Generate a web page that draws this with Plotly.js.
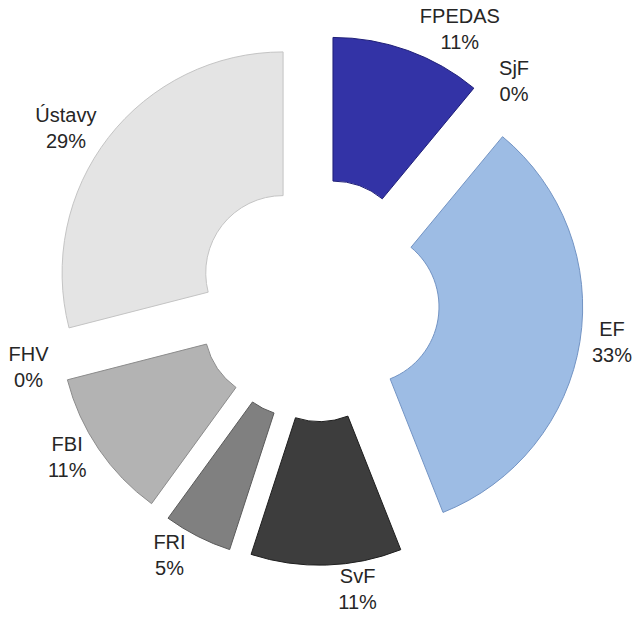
<!DOCTYPE html>
<html>
<head>
<meta charset="utf-8">
<script src="https://cdn.plot.ly/plotly-3.0.1.min.js"></script>
<style>html,body{margin:0;padding:0;background:#fff;}#chart{width:644px;height:624px;}</style>
</head>
<body>
<div id="chart"></div>
<script>
const categories = ["FPEDAS", "SjF", "EF", "SvF", "FRI", "FBI", "FHV", "Ústavy"];
const shares = [11, 0, 33, 11, 5, 11, 0, 29];
const sliceColors = ["#3333a6", "#8fa9d6", "#9dbce4", "#3d3d3d", "#808080", "#b3b3b3", "#cccccc", "#e4e4e4"];
const edgeColors = ["#1f1f78", "#6f8fbf", "#7394c4", "#1e1e1e", "#5a5a5a", "#8c8c8c", "#999999", "#c4c4c4"];

const trace = {
  type: "pie",
  labels: categories,
  values: shares,
  sort: false,
  direction: "clockwise",
  rotation: 0,
  hole: 0.35,
  pull: categories.map(() => 0.2),
  marker: {
    colors: sliceColors,
    line: { color: edgeColors, width: shares.map(v => (v > 0 ? 1 : 0)) }
  },
  texttemplate: "%{label}<br>%{value}%",
  textposition: "outside",
  outsidetextfont: { family: "Liberation Sans, Arial, sans-serif", size: 20, color: "#262626" },
  showlegend: false,
  domain: { x: [0.082, 0.9056], y: [0.0942, 0.9442] },
  hoverinfo: "label+percent"
};

const layout = {
  width: 644,
  height: 624,
  margin: { l: 0, r: 0, t: 0, b: 0 },
  paper_bgcolor: "#ffffff",
  showlegend: false
};

Plotly.newPlot("chart", [trace], layout, { displayModeBar: false, staticPlot: true });
</script>
</body>
</html>
